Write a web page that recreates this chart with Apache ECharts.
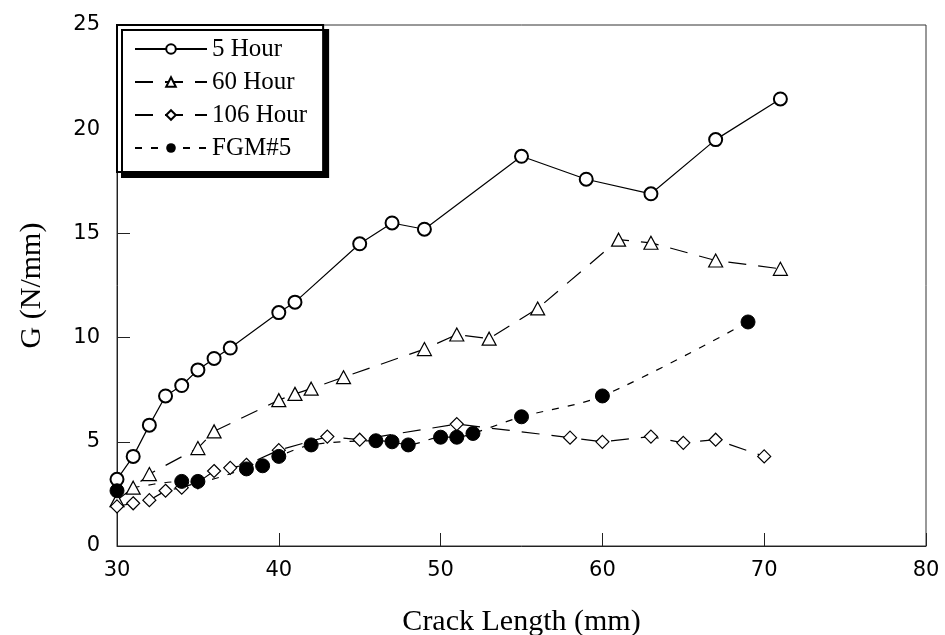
<!DOCTYPE html>
<html>
<head>
<meta charset="utf-8">
<script src="https://cdn.jsdelivr.net/npm/echarts@6/dist/echarts.min.js"></script>
<style>html,body{margin:0;padding:0;background:#fff}#c{width:945px;height:635px}</style>
</head>
<body>
<div id="c"></div>
<script>
// Crack length (mm) and G (N/mm) per series
var x5h = [30,31,32,33,34,35,36,37,40,41,45,47,49,55,59,63,67,71];
var g5h = [3.2,4.3,5.8,7.2,7.7,8.45,9.0,9.5,11.2,11.7,14.5,15.5,15.2,18.7,17.6,16.9,19.5,21.45];

var x60h = [30,31,32,35,36,40,41,42,44,49,51,53,56,61,63,67,71];
var g60h = [2.2,2.8,3.45,4.7,5.5,7.0,7.3,7.55,8.1,9.45,10.15,9.95,11.4,14.7,14.55,13.7,13.3];

var x106h = [30,31,32,33,34,35,36,37,38,40,43,45,51,58,60,63,65,67,70];
var g106h = [1.9,2.05,2.2,2.65,2.8,3.05,3.6,3.75,3.9,4.6,5.25,5.1,5.85,5.2,5.0,5.25,4.95,5.1,4.3];

var xFgm = [30,34,35,38,39,40,42,46,47,48,50,51,52,55,60,69];
var gFgm = [2.65,3.1,3.1,3.7,3.85,4.3,4.85,5.05,5.0,4.85,5.22,5.22,5.4,6.2,7.2,10.75];

var seriesNames = ['5 Hour','60 Hour','106 Hour','FGM#5'];
var xTicks = [30,40,50,60,70,80];
var yTicks = [0,5,10,15,20,25];

function zip(a,b){ return a.map(function(v,i){ return [v,b[i]]; }); }

var chart = echarts.init(document.getElementById('c'), null, {renderer:'canvas'});
var serif = '"Liberation Serif", "Times New Roman", serif';
var sans = '"DejaVu Sans", "Liberation Sans", sans-serif';

chart.setOption({
  animation: false,
  backgroundColor: '#fff',
  grid: {left:117, right:19, top:25, bottom:89, show:true, borderColor:'#333', borderWidth:1,
         backgroundColor:'transparent', containLabel:false, outerBoundsMode:'none'},
  legend: {
    left: 117, top: 25, orient: 'vertical',
    data: seriesNames,
    itemWidth: 72, itemHeight: 12, itemGap: 7,
    padding: [11, 16, 11, 17],
    backgroundColor: '#fff', borderColor: '#000', borderWidth: 2,
    shadowColor: '#000', shadowBlur: 0, shadowOffsetX: 5, shadowOffsetY: 5,
    textStyle: {fontFamily: serif, fontSize: 25, color:'#000', lineHeight: 26},
    selectedMode: false
  },
  xAxis: {
    type: 'value', min: 30, max: 80, interval: 10,
    name: 'Crack Length (mm)', nameLocation: 'middle', nameGap: 61,
    nameTextStyle: {fontFamily: serif, fontSize: 30, color:'#000'},
    axisLine: {show:true, onZero:false, lineStyle:{color:'#222', width:1}},
    axisTick: {show:true, inside:true, length:13, lineStyle:{color:'#222'}},
    axisLabel: {fontFamily: sans, fontSize: 21, color:'#000', margin: 14,
      formatter: function(v){ return xTicks.indexOf(v) >= 0 ? String(v) : ''; }},
    splitLine: {show:false}
  },
  yAxis: {
    type: 'value', min: 0, max: 25, interval: 5,
    name: 'G (N/mm)', nameLocation: 'middle', nameGap: 70, nameRotate: 90,
    nameTextStyle: {fontFamily: serif, fontSize: 30, color:'#000'},
    axisLine: {show:true, lineStyle:{color:'#222', width:1}},
    axisTick: {show:true, inside:true, length:13, lineStyle:{color:'#222'}},
    axisLabel: {fontFamily: sans, fontSize: 21, color:'#000', margin: 17,
      formatter: function(v){ return yTicks.indexOf(v) >= 0 ? String(v) : ''; }},
    splitLine: {show:false}
  },
  series: [
    {name: seriesNames[0], type:'line', data: zip(x5h, g5h),
     symbol:'emptyCircle', symbolSize: 13,
     lineStyle:{color:'#000', width:1.2, type:'solid'},
     itemStyle:{color:'#000', borderColor:'#000', borderWidth:1}},
    {name: seriesNames[1], type:'line', data: zip(x60h, g60h),
     symbol:'path://M0,-10 L10,8 L-10,8 Z', symbolSize: [14,13], symbolKeepAspect: false,
     lineStyle:{color:'#000', width:1.2, type:[18,12]},
     itemStyle:{color:'#fff', borderColor:'#000', borderWidth:1.2}},
    {name: seriesNames[2], type:'line', data: zip(x106h, g106h),
     symbol:'path://M0,-10 L10,0 L0,10 L-10,0 Z', symbolSize: 13,
     lineStyle:{color:'#000', width:1.2, type:[18,12]},
     itemStyle:{color:'#fff', borderColor:'#000', borderWidth:1.2}},
    {name: seriesNames[3], type:'line', data: zip(xFgm, gFgm),
     symbol:'circle', symbolSize: 14, smooth: 0.3,
     lineStyle:{color:'#000', width:1.2, type:[7,9]},
     itemStyle:{color:'#000', borderColor:'#000'}}
  ]
});
</script>
</body>
</html>
